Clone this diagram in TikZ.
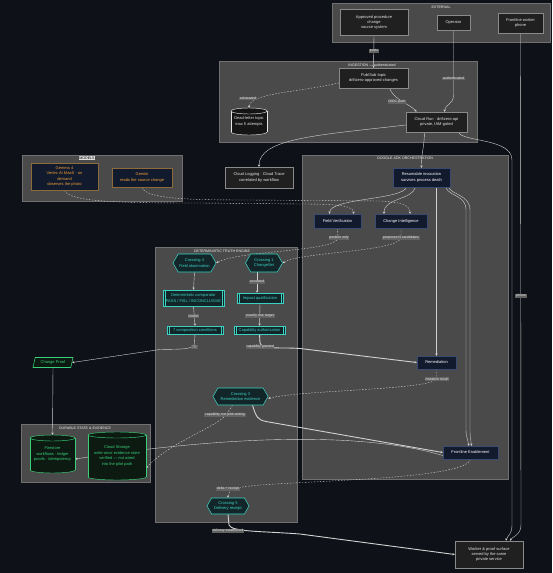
\documentclass[tikz,border=0pt]{standalone}
\usepackage{fontspec}
\setmainfont{Liberation Sans}
\usetikzlibrary{shapes.geometric,shapes.symbols,arrows.meta,calc}
\pgfdeclarelayer{bglayer}
\pgfdeclarelayer{edgelayer}
\pgfsetlayers{bglayer,edgelayer,main}
\definecolor{bgc}{HTML}{0E1117}
\definecolor{clfill}{HTML}{4A4A4A}
\definecolor{clline}{HTML}{707070}
\definecolor{cltext}{HTML}{F0F0F0}
\definecolor{extfill}{HTML}{202020}
\definecolor{extline}{HTML}{8A8A8A}
\definecolor{exttext}{HTML}{E6E6E6}
\definecolor{navyf}{HTML}{121A2E}
\definecolor{navyl}{HTML}{3A4A70}
\definecolor{orline}{HTML}{8C6A3A}
\definecolor{ortext}{HTML}{F2A035}
\definecolor{tealc}{HTML}{3CD0C0}
\definecolor{tealf}{HTML}{12262A}
\definecolor{mgreen}{HTML}{3AD07A}
\definecolor{gfill}{HTML}{0C1A12}
\definecolor{edgec}{HTML}{D2D2D2}
\definecolor{lblbg}{HTML}{626262}
\definecolor{lbltext}{HTML}{EDEDED}
\definecolor{cylf}{HTML}{151515}
\newcommand\dbcyl[8]{%
  \path[fill=#7,draw=#6,line width=0.45pt] (#2,#3+#5/2) ellipse [x radius=#4/2, y radius=3];
  \fill[#7] (#2-#4/2,#3-#5/2) rectangle (#2+#4/2,#3+#5/2);
  \draw[#6,line width=0.45pt] (#2-#4/2,#3-#5/2) -- (#2-#4/2,#3+#5/2) (#2+#4/2,#3-#5/2) -- (#2+#4/2,#3+#5/2);
  \path[fill=#7,draw=#6,line width=0.45pt] (#2,#3-#5/2) ellipse [x radius=#4/2, y radius=3];
  \node[minimum width=#4, minimum height=#5+6, text=#6] (#1) at (#2,#3) {#8};
}
\begin{document}
\begin{tikzpicture}[x=1pt,y=-1pt,
  every node/.style={font=\fontsize{4}{5.4}\selectfont, align=center, inner sep=0.5pt},
  cluster/.style={fill=clfill, draw=clline, line width=0.5pt},
  ctitle/.style={text=cltext, font=\fontsize{3.6}{4}\selectfont},
  extbox/.style={draw=extline, fill=extfill, text=exttext, line width=0.45pt},
  navybox/.style={draw=navyl, fill=navyf, text=white, line width=0.45pt},
  orangebox/.style={draw=orline, fill=navyf, text=ortext, line width=0.45pt},
  hexa/.style={shape=signal, signal to=east and west, signal pointer angle=120, draw=tealc, fill=tealf, text=tealc, line width=0.55pt},
  procbox/.style={draw=tealc, fill=tealf, text=tealc, line width=0.55pt},
  proofbox/.style={trapezium, trapezium left angle=65, trapezium right angle=115, trapezium stretches body, draw=mgreen, fill=gfill, text=mgreen, line width=0.55pt},
  conn/.style={draw=edgec, line width=0.4pt, -{Stealth[length=2.3pt,width=2.3pt]}},
  connthick/.style={conn, line width=0.9pt},
  conndash/.style={conn, dash pattern=on 1.5pt off 1.5pt},
  elabel/.style={fill=lblbg, text=lbltext, inner sep=0.7pt, font=\fontsize{3.5}{4}\selectfont},
]
\useasboundingbox (0,0) rectangle (552,573);
\begin{pgfonlayer}{bglayer}
\fill[bgc] (0,0) rectangle (552,573);
\draw[cluster] (332,3) rectangle (550,42);
\draw[cluster] (219,61) rectangle (477,142);
\draw[cluster] (22,155) rectangle (182,201);
\draw[cluster] (302,155) rectangle (508,479);
\draw[cluster] (155,247) rectangle (297,522);
\draw[cluster] (21,424) rectangle (150,482);
\end{pgfonlayer}

% cluster titles
\node[ctitle] (tExt) at (441,7.5) {EXTERNAL};
\node[ctitle] (tIng) at (372,65.5) {INGESTION — authenticated};
\node[ctitle, fill=white!88!black, text=black, inner sep=0.6pt] (tMod) at (87,158) {MODELS};
\node[ctitle] (tAdk) at (405,158.5) {GOOGLE ADK ORCHESTRATION};
\node[ctitle] (tDte) at (222,251) {DETERMINISTIC TRUTH ENGINE};
\node[ctitle] (tDur) at (85,428.5) {DURABLE STATE \& EVIDENCE};

% nodes
\node[extbox, minimum width=68, minimum height=26] (src) at (374,22.5) {Approved procedure\\change\\source system};
\node[extbox, minimum width=33, minimum height=15] (op) at (453.5,22.5) {Operator};
\node[extbox, minimum width=45, minimum height=20] (phone) at (520.5,23) {Frontline worker\\phone};
\node[extbox, minimum width=69, minimum height=20] (pubsub) at (373.5,78) {Pub/Sub topic\\driftzero-approved-changes};
\dbcyl{dlq}{249}{121.5}{36}{21}{exttext}{cylf}{Dead-letter topic\\max 5 attempts}
\node[extbox, minimum width=61, minimum height=20] (cloudrun) at (436.5,122) {Cloud Run · driftzero-api\\private, IAM-gated};
\node[extbox, minimum width=68, minimum height=21] (logging) at (259,177.5) {Cloud Logging · Cloud Trace\\correlated by workflow};
\node[orangebox, minimum width=67, minimum height=27] (gemma) at (64.5,176.5) {Gemma 4\\Vertex AI MaaS · on\\demand\\observes the photo};
\node[orangebox, minimum width=60, minimum height=19] (gemini) at (142,177.5) {Gemini\\reads the source change};
\node[navybox, minimum width=57, minimum height=19] (resum) at (421.5,177.5) {Resumable invocation\\survives process death};
\node[navybox, minimum width=47, minimum height=14] (fv) at (337.5,221) {Field Verification};
\node[navybox, minimum width=52, minimum height=14] (ci) at (401,221) {Change Intelligence};
\node[hexa, minimum width=43, minimum height=18] (c4) at (194.5,263) {Crossing 4\\Field observation};
\node[hexa, minimum width=37, minimum height=18] (c1) at (264,263) {Crossing 1\\ChangeSet};
\node[procbox, minimum width=61, minimum height=16] (comp) at (193.5,298) {Deterministic comparator\\PASS / FAIL / INCONCLUSIVE};
\node[procbox, minimum width=46, minimum height=10] (impact) at (260,298) {Impact qualification};
\node[procbox, minimum width=56, minimum height=8] (seven) at (195,330) {7 composition conditions};
\node[procbox, minimum width=51, minimum height=8] (capauth) at (259.5,330) {Capability authorization};
\foreach \n in {comp,impact,seven,capauth}{
  \draw[tealc, line width=0.45pt] ([xshift=2pt]\n.north west) -- ([xshift=2pt]\n.south west)
    ([xshift=-2pt]\n.north east) -- ([xshift=-2pt]\n.south east);
}
\node[navybox, minimum width=39, minimum height=13] (remed) at (436.5,362.5) {Remediation};
\node[hexa, minimum width=55, minimum height=17] (c3) at (240.5,396.5) {Crossing 3\\Remediation evidence};
\node[proofbox, minimum width=40, minimum height=10] (proof) at (53,362.5) {Change Proof};
\dbcyl{fire}{52.5}{454}{45}{32}{mgreen}{gfill}{Firestore\\workflows · ledger\\proofs · idempotency}
\dbcyl{gcs}{117}{456}{58}{42}{mgreen}{gfill}{Cloud Storage\\write-once evidence store\\verified — not wired\\into the pilot path}
\node[navybox, minimum width=55, minimum height=13] (fe) at (470.5,452.5) {Frontline Enablement};
\node[hexa, minimum width=42, minimum height=16] (c5) at (228,506) {Crossing 5\\Delivery receipt};
\node[extbox, minimum width=68, minimum height=27] (worker) at (489,554.5) {Worker \& proof surface\\served by the same\\private service};

\begin{pgfonlayer}{edgelayer}
% ingestion
\draw[conn] (src.south) -- (pubsub.north);
\node[elabel] (l1) at (374,51) {posts};
\draw[conn] (op.south) -- (453.5,95) .. controls (453.5,105) and (445,104) .. ([xshift=8pt]cloudrun.north);
\node[elabel] (l2) at (453.5,78.5) {authenticated};
\draw[conndash] ([yshift=-5pt]pubsub.west) .. controls (300,92) and (250,93) .. (dlq.north);
\node[elabel] (l3) at (248,98.5) {exhausted};
\draw[conn] ([xshift=16pt]pubsub.south) .. controls (394,100) and (410,104) .. ([xshift=-20pt]cloudrun.north);
\node[elabel] (l4) at (397,102) {OIDC push};
\draw[conn] ([yshift=-3pt]cloudrun.west) .. controls (320,135) and (259,138) .. (logging.north);
\draw[conn] ([xshift=-12pt]cloudrun.south) .. controls (424,150) and (421.5,150) .. (resum.north);
\draw[conn] ([xshift=22pt]cloudrun.south) .. controls (462,142) and (512,138) .. (512,160) -- (512,525) .. controls (512,535) and (507,536) .. ([xshift=17pt]worker.north);
\draw[conn] (phone.south) -- (521,525) .. controls (521,535) and (512,537) .. ([xshift=21pt]worker.north);
\node[elabel] (l5) at (521,296) {phone};
% models
\draw[conndash] (gemma.south) .. controls (68,202) and (120,203) .. (200,203) -- (300,204) .. controls (340,204) and (353.5,206) .. ([xshift=16pt]fv.north);
\draw[conndash] (gemini.south) .. controls (145,199) and (190,200) .. (250,200) -- (380,201) .. controls (400,202) and (410,205) .. ([xshift=9pt]ci.north);
% adk
\draw[conn] ([xshift=-15pt]resum.south) .. controls (402,200) and (330,198) .. ([xshift=-8pt]fv.north);
\draw[conn] ([xshift=-6pt]resum.south) .. controls (412,200) and (384,198) .. ([xshift=-17pt]ci.north);
\draw[conn] ([xshift=15pt]resum.south) -- (remed.north);
\draw[conn] ([xshift=24pt]resum.south) .. controls (450,197) and (466,195) .. (466,210) -- (466,430) .. controls (466,440) and (469,440) .. ([xshift=-2pt]fe.north);
\draw[conn] ([xshift=27pt]resum.south) .. controls (452,195) and (470,195) .. (470,210) -- (470,430) .. controls (470,440) and (471,440) .. ([xshift=1pt]fe.north);
\draw[conndash] (fv.south) -- (338,238) .. controls (335,252) and (240,250) .. (c4.east);
\node[elabel] (l6) at (339,238) {position only};
\draw[conndash] (ci.south) -- (401,238) .. controls (396,252) and (300,252) .. (c1.east);
\node[elabel] (l7) at (401,238) {proposes N candidates};
% truth engine
\draw[conn] (c4.south) -- (comp.north);
\draw[conn] ([xshift=-7pt]c1.south) -- ([xshift=-3pt]impact.north);
\node[elabel] (l8) at (257,282) {accepted};
\draw[conn] (comp.south) -- (seven.north);
\node[elabel] (l9) at (193.5,316) {verdict};
\draw[conn] (impact.south) -- (capauth.north);
\node[elabel] (l10) at (260,316) {exactly one target};
\draw[conn] (seven.south) -- (194.5,343) .. controls (194.5,350) and (180,349) .. (160,349.5) -- (proof.east);
\node[elabel] (l11) at (194.5,347) {7/7};
\draw[connthick] (capauth.south) -- (260,343) .. controls (262,350) and (280,347) .. (300,348.5) -- (remed.west);
\node[elabel] (l12) at (260,347) {capability granted};
\draw[conndash] (remed.south) -- (436.5,379) .. controls (430,390) and (300,390) .. ([yshift=-2pt]c3.east);
\node[elabel] (l13) at (437,379) {mutation result};
\draw[connthick] ([xshift=12pt]c3.south) .. controls (256,417) and (258,420) .. (266,421.5) -- (fe.west);
\draw[conndash] ([xshift=-8pt]c3.south) -- (226,415) .. controls (215,428) and (170,442) .. ([yshift=-12pt]gcs.east);
\node[elabel] (l14) at (225,415) {capability, not pilot writing};
\draw[conn] ([yshift=-3pt]fe.west) .. controls (350,428) and (200,440) .. ([yshift=-5pt]fire.east);
\draw[conndash] (fe.south) .. controls (466,478) and (330,480) .. (260,485) .. controls (240,487) and (228,488) .. (c5.north);
\node[elabel] (l15) at (228,489) {delta + receipt};
\draw[connthick] (c5.south) -- (229,525) .. controls (232,532) and (260,531) .. (300,534) -- (worker.west);
\node[elabel] (l16) at (228,531) {delivery established};
\draw[conn] (proof.south) -- (fire.north);
\end{pgfonlayer}
\end{tikzpicture}
\end{document}
